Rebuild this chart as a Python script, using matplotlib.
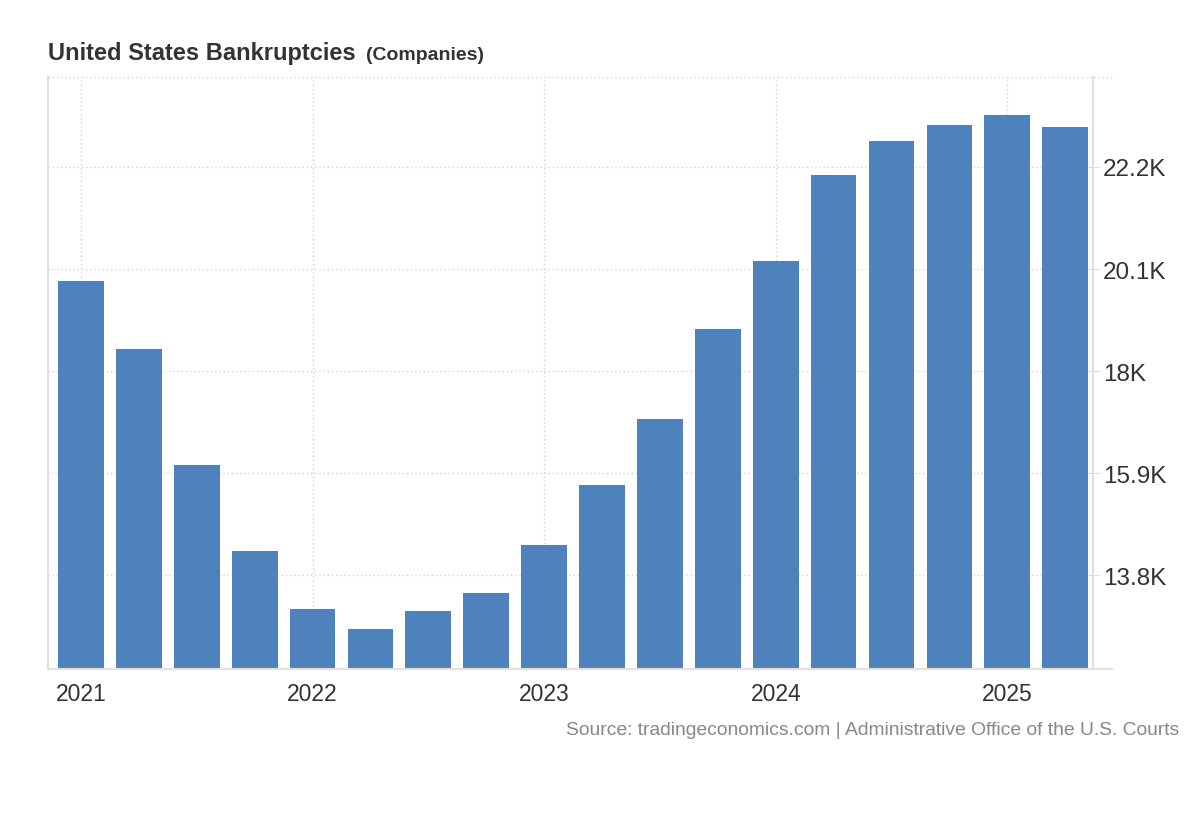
import matplotlib
matplotlib.use("Agg")
import matplotlib.pyplot as plt
import numpy as np

plt.rcParams['font.family'] = ['Liberation Sans', 'DejaVu Sans']

# quarterly company bankruptcies, Q1 2021 .. Q2 2025 (thousands)
quarters = ['2021Q1', '2021Q2', '2021Q3', '2021Q4',
            '2022Q1', '2022Q2', '2022Q3', '2022Q4',
            '2023Q1', '2023Q2', '2023Q3', '2023Q4',
            '2024Q1', '2024Q2', '2024Q3', '2024Q4',
            '2025Q1', '2025Q2']
values = [19.85, 18.45, 16.07, 14.29,
          13.10, 12.69, 13.06, 13.43,
          14.42, 15.65, 17.01, 18.87,
          20.27, 22.04, 22.74, 23.07,
          23.27, 23.02]
year_labels = ['2021', '2022', '2023', '2024', '2025']
ytick_vals = [13.8, 15.9, 18.0, 20.1, 22.2]
ytick_labels = ['13.8K', '15.9K', '18K', '20.1K', '22.2K']

fig = plt.figure(figsize=(12, 8.2), dpi=100)
ax = fig.add_axes([0.04, 0.1829, 0.8708, 0.722])

x = np.arange(len(values))
ax.bar(x, values, width=0.79, color='#4f81bd', zorder=2)

ax.set_xlim(-0.57, 17.48)
ax.set_ylim(11.865, 24.053)

year_pos = [quarters.index(y + 'Q1') for y in year_labels]
ax.set_xticks(year_pos)
ax.set_xticklabels(year_labels, fontsize=16.5, color='#333333')
ax.tick_params(axis='x', length=0, pad=9)

ax.yaxis.tick_right()
ax.set_yticks(ytick_vals)
ax.set_yticklabels(ytick_labels, fontsize=17.5, color='#333333')
ax.tick_params(axis='y', length=10, direction='inout', color='#e0e0e0', pad=2)

ax.grid(True, linestyle=(0, (1, 2)), color='#d4d4d4', linewidth=1, zorder=0)

ax.spines['top'].set_visible(False)
for side in ['left', 'right', 'bottom']:
    ax.spines[side].set_color('#e0e0e0')
    ax.spines[side].set_linewidth(1.5)

# top dotted line runs past the right axis, bottom line too
fig.add_artist(plt.Line2D([48/1200, 1112/1200], [1 - 78/820, 1 - 78/820],
                          linestyle=(0, (1, 2)), color='#d4d4d4', linewidth=1))
fig.add_artist(plt.Line2D([1093/1200, 1112/1200], [1 - 670/820, 1 - 670/820],
                          color='#e0e0e0', linewidth=1.5))

fig.text(48/1200, 1 - 60/820, 'United States Bankruptcies', fontsize=17,
         fontweight='bold', color='#333333', ha='left', va='baseline')
fig.text(366/1200, 1 - 60/820, '(Companies)', fontsize=14,
         fontweight='bold', color='#333333', ha='left', va='baseline')

fig.text(1179/1200, 1 - 731/820,
         'Source: tradingeconomics.com | Administrative Office of the U.S. Courts',
         fontsize=13.9, color='#888888', ha='right', va='center')

fig.savefig('out.png', dpi=100, facecolor='white')
